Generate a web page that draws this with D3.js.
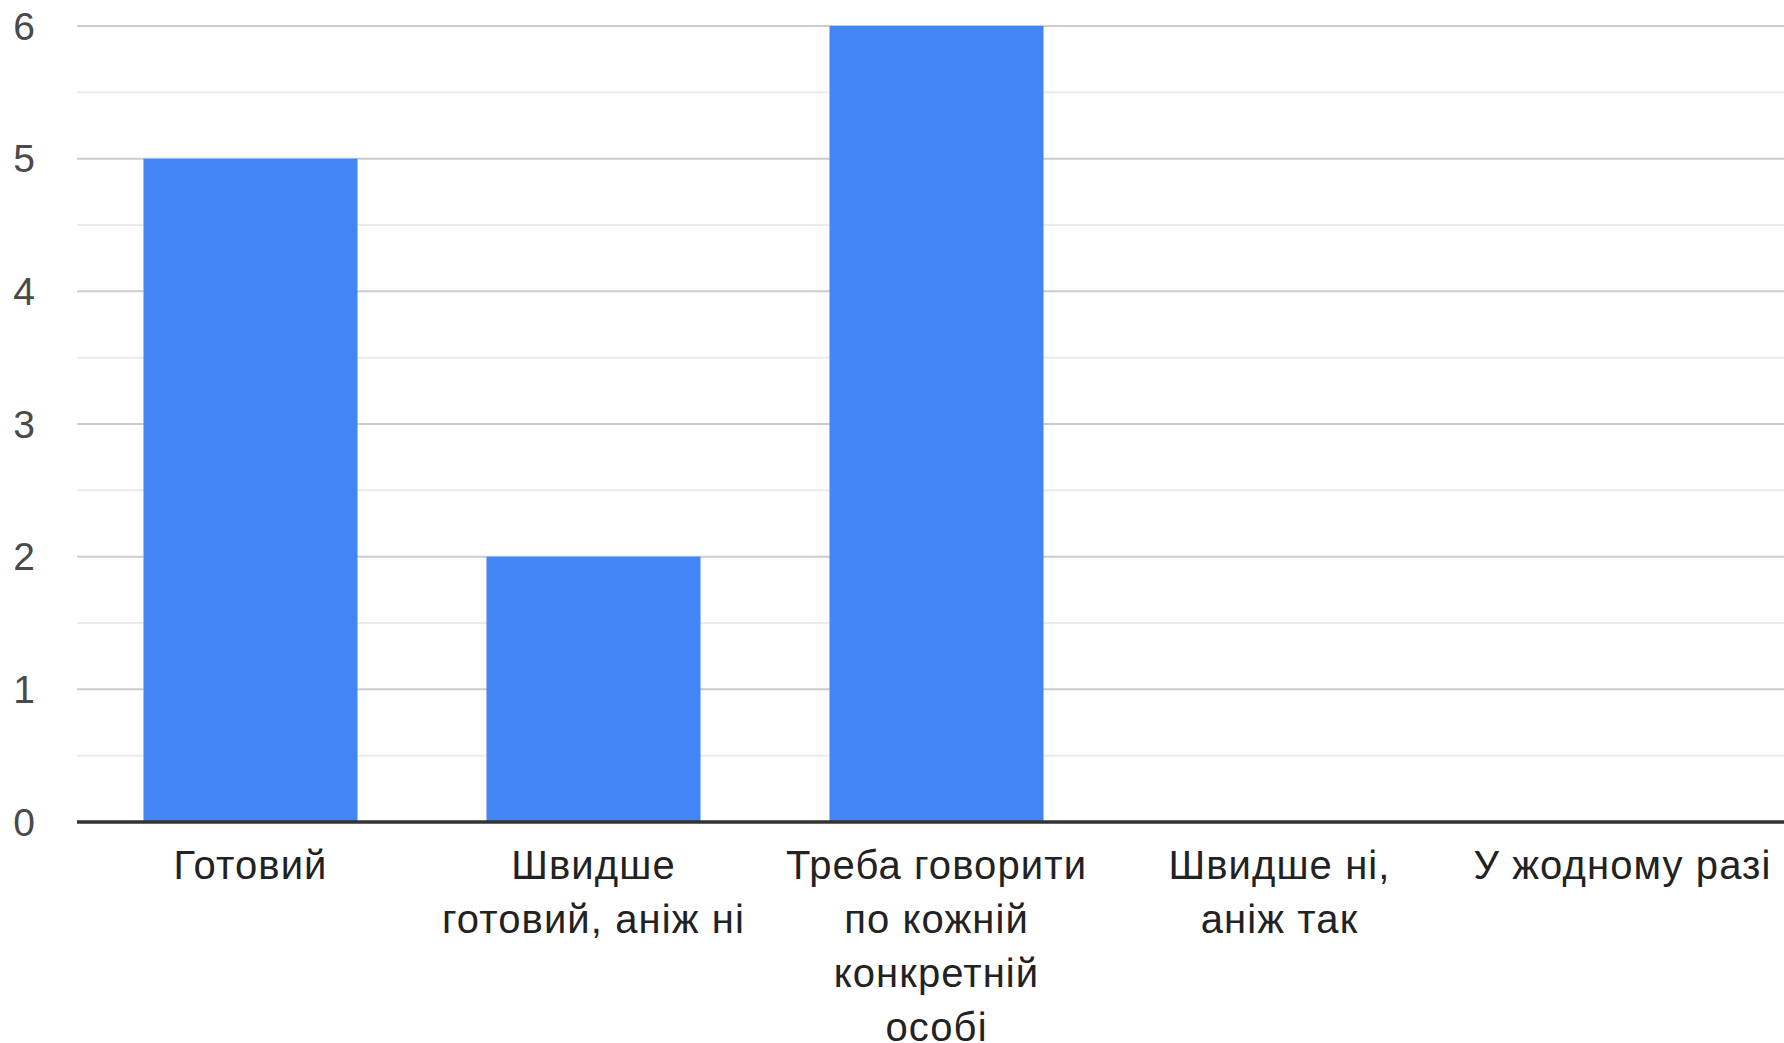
<!DOCTYPE html>
<html>
<head>
<meta charset="utf-8">
<script src="https://cdn.jsdelivr.net/npm/d3@7"></script>
<style>
  html, body { margin: 0; padding: 0; background: #fff; overflow: hidden; }
  text { font-family: "Liberation Sans", Arial, sans-serif; }
</style>
</head>
<body>
<div id="chart"></div>
<script>
const categories = ["Готовий", "Швидше готовий, аніж ні", "Треба говорити по кожній конкретній особі", "Швидше ні, аніж так", "У жодному разі"];
const labelLines = [
  ["Готовий"],
  ["Швидше", "готовий, аніж ні"],
  ["Треба говорити", "по кожній", "конкретній", "особі"],
  ["Швидше ні,", "аніж так"],
  ["У жодному разі"]
];
const counts = [5, 2, 6, 0, 0];
const yTicks = [0, 1, 2, 3, 4, 5, 6];
const yMinorTicks = [0.5, 1.5, 2.5, 3.5, 4.5, 5.5];

const W = 1784, H = 1043;
const plotLeft = 77, plotRight = 1784, plotTop = 26, plotBottom = 822;

const svg = d3.select("#chart")
  .append("svg")
  .attr("width", W)
  .attr("height", H);

const x = d3.scaleBand()
  .domain(categories)
  .range([79, 1794])
  .paddingInner(0.376)
  .paddingOuter(0.188);

const y = d3.scaleLinear()
  .domain([0, 6])
  .range([plotBottom, plotTop]);

// minor gridlines
svg.append("g")
  .selectAll("line")
  .data(yMinorTicks)
  .enter()
  .append("line")
  .attr("x1", plotLeft)
  .attr("x2", plotRight)
  .attr("y1", d => y(d))
  .attr("y2", d => y(d))
  .attr("stroke", "#ebebeb")
  .attr("stroke-width", 2);

// major gridlines
svg.append("g")
  .selectAll("line")
  .data(yTicks.filter(d => d > 0))
  .enter()
  .append("line")
  .attr("x1", plotLeft)
  .attr("x2", plotRight)
  .attr("y1", d => y(d))
  .attr("y2", d => y(d))
  .attr("stroke", "#cccccc")
  .attr("stroke-width", 2);

// y labels
svg.append("g")
  .selectAll("text")
  .data(yTicks)
  .enter()
  .append("text")
  .attr("x", 35)
  .attr("y", d => y(d))
  .attr("dy", "0.35em")
  .attr("text-anchor", "end")
  .style("font-size", "39px")
  .style("fill", "#4a4a4a")
  .text(d => d);

// bars
svg.append("g")
  .selectAll("rect")
  .data(counts)
  .enter()
  .append("rect")
  .attr("x", (d, i) => x(categories[i]))
  .attr("y", d => y(d))
  .attr("width", x.bandwidth())
  .attr("height", d => y(0) - y(d))
  .attr("fill", "#4285f4");

// baseline
svg.append("line")
  .attr("x1", plotLeft)
  .attr("x2", plotRight)
  .attr("y1", y(0))
  .attr("y2", y(0))
  .attr("stroke", "#333")
  .attr("stroke-width", 3.5);

// category labels (last line of the third label runs off the bottom, as in the original)
const labels = svg.append("g")
  .selectAll("text")
  .data(categories)
  .enter()
  .append("text")
  .attr("text-anchor", "middle")
  .style("font-size", "40px")
  .style("letter-spacing", "1.1px")
  .style("fill", "#222");

labels.each(function(d, i) {
  const cx = x(d) + x.bandwidth() / 2;
  d3.select(this).selectAll("tspan")
    .data(labelLines[i])
    .enter()
    .append("tspan")
    .attr("x", cx)
    .attr("y", (l, j) => 879 + j * 54)
    .text(l => l);
});
</script>
</body>
</html>
